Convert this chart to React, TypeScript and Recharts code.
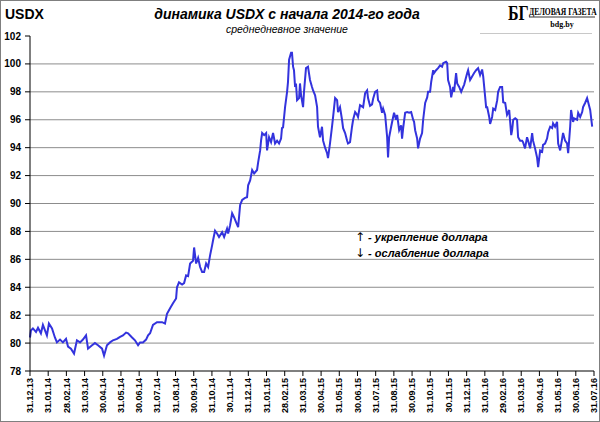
import React from 'react';
import { LineChart, Line, XAxis, YAxis, CartesianGrid } from 'recharts';

// month-end tick labels, index = months since 31.12.13
const monthLabels = [
  '31.12.13', '31.01.14', '28.02.14', '31.03.14', '30.04.14', '31.05.14', '30.06.14', '31.07.14',
  '31.08.14', '30.09.14', '31.10.14', '30.11.14', '31.12.14', '31.01.15', '28.02.15', '31.03.15',
  '30.04.15', '31.05.15', '30.06.15', '31.07.15', '31.08.15', '30.09.15', '31.10.15', '30.11.15',
  '31.12.15', '31.01.16', '29.02.16', '31.03.16', '30.04.16', '31.05.16', '30.06.16', '31.07.16',
];

const yTicks = [78, 80, 82, 84, 86, 88, 90, 92, 94, 96, 98, 100, 102];
const gridValues = [80, 82, 84, 86, 88, 90, 92, 94, 96, 98, 100];

// [months since 31.12.13, USDX]
const usdx2014: [number, number][] = [
  [0, 80.4], [0.05, 80.9], [0.16, 81.05], [0.33, 80.8], [0.44, 81.1], [0.6, 80.7], [0.71, 81.3],
  [0.93, 80.55], [1.04, 81.4], [1.21, 81.05], [1.37, 80.4], [1.48, 80.05], [1.65, 80.25], [1.81, 80.05],
  [1.98, 80.3], [2.09, 79.75], [2.25, 79.6], [2.42, 79.25], [2.58, 80.2], [2.75, 80.05], [2.91, 80.25],
  [3.08, 80.55], [3.19, 79.6], [3.41, 79.85], [3.57, 80.0], [3.74, 79.85], [3.96, 79.6], [4.07, 79.1],
  [4.23, 79.85], [4.4, 80.05], [4.56, 80.2], [4.78, 80.3], [4.95, 80.45], [5.11, 80.55], [5.28, 80.75],
  [5.39, 80.7], [5.61, 80.4], [5.77, 80.2], [5.94, 79.85], [6.05, 80.05], [6.21, 80.05], [6.38, 80.25],
  [6.49, 80.55], [6.6, 80.7], [6.76, 81.3], [6.98, 81.5], [7.26, 81.5], [7.42, 81.4], [7.53, 82.1],
  [7.7, 82.5], [7.86, 82.85], [8.03, 83.2], [8.08, 84.0], [8.19, 84.35], [8.36, 84.2], [8.47, 84.3],
  [8.58, 84.85], [8.69, 84.8], [8.8, 85.7], [8.96, 85.9], [9.02, 86.85], [9.13, 85.7], [9.24, 86.1],
  [9.35, 85.45], [9.46, 85.1], [9.57, 85.1], [9.68, 85.7], [9.79, 85.45], [9.9, 86.3], [10.01, 87.0],
  [10.06, 87.35], [10.17, 88.05], [10.28, 87.85], [10.39, 87.6], [10.56, 87.95], [10.67, 87.6],
  [10.83, 88.2], [10.89, 87.85], [11.0, 88.45], [11.11, 89.3], [11.22, 89.0], [11.33, 88.65],
  [11.44, 88.3], [11.55, 89.9], [11.66, 90.25], [11.82, 90.4], [11.93, 90.45], [11.99, 91.3],
];

const usdx2015: [number, number][] = [
  [12.1, 91.65], [12.21, 92.4], [12.32, 92.15], [12.48, 92.4], [12.54, 92.95], [12.65, 93.8], [12.7, 94.5],
  [12.76, 95.05], [12.87, 94.9], [12.98, 95.05], [13.03, 93.8], [13.14, 94.75], [13.25, 94.4], [13.36, 95.05],
  [13.47, 94.3], [13.58, 94.5], [13.69, 94.3], [13.8, 94.65], [13.85, 95.4], [13.91, 95.45], [14.02, 96.9],
  [14.13, 98.0], [14.18, 98.7], [14.24, 100.3], [14.35, 100.8], [14.4, 100.8], [14.46, 99.8], [14.51, 99.55],
  [14.57, 98.35], [14.62, 98.6], [14.68, 97.4], [14.79, 97.55], [14.84, 98.6], [14.9, 97.75], [15.01, 96.9],
  [15.06, 98.0], [15.17, 99.7], [15.28, 99.8], [15.39, 98.85], [15.5, 98.35], [15.56, 98.1], [15.67, 97.75],
  [15.78, 96.9], [15.83, 95.5], [15.94, 94.75], [16.05, 95.5], [16.11, 94.5], [16.22, 94.0], [16.33, 93.6],
  [16.38, 93.25], [16.49, 94.3], [16.6, 95.5], [16.66, 96.2], [16.77, 97.55], [16.88, 97.4], [16.93, 96.55],
  [17.04, 96.9], [17.15, 96.0], [17.21, 95.4], [17.32, 95.05], [17.43, 94.5], [17.48, 94.3], [17.59, 94.4],
  [17.7, 95.5], [17.76, 96.0], [17.87, 96.55], [17.98, 96.35], [18.03, 96.2], [18.14, 97.05], [18.31, 96.9],
  [18.42, 97.9], [18.53, 98.1], [18.58, 97.55], [18.69, 97.0], [18.8, 97.1], [18.86, 97.5], [18.97, 98.0],
  [19.08, 98.1], [19.13, 97.4], [19.24, 97.2], [19.35, 96.5], [19.41, 96.8], [19.52, 96.35], [19.63, 94.75],
  [19.68, 93.3], [19.74, 94.75], [19.85, 95.5], [19.96, 96.2], [20.01, 96.5], [20.12, 96.0], [20.18, 96.35],
  [20.29, 95.25], [20.4, 95.6], [20.45, 94.65], [20.51, 95.4], [20.62, 96.5], [20.73, 96.55], [20.84, 96.5],
  [20.95, 96.55], [21.06, 96.0], [21.11, 95.85], [21.17, 95.25], [21.28, 94.65], [21.33, 93.95], [21.44, 94.65],
  [21.55, 95.05], [21.61, 96.0], [21.72, 97.2], [21.83, 97.6], [21.88, 98.0], [21.99, 98.0], [22.05, 98.7],
  [22.16, 99.55], [22.21, 99.35], [22.32, 99.55], [22.43, 99.7], [22.54, 99.9], [22.65, 99.8], [22.71, 100.05],
  [22.87, 100.15], [22.93, 100.05], [22.98, 98.85], [23.09, 98.35], [23.15, 97.6], [23.26, 98.35], [23.31, 98.0],
  [23.42, 99.35], [23.48, 98.6], [23.59, 98.35], [23.7, 98.0], [23.81, 98.35], [23.86, 98.5],
];

const usdx2016: [number, number][] = [
  [24.03, 99.35], [24.08, 99.55], [24.19, 98.85], [24.3, 99.1], [24.41, 99.35], [24.52, 99.55], [24.63, 99.7],
  [24.74, 99.2], [24.85, 99.6], [24.91, 99.1], [25.02, 97.6], [25.07, 96.9], [25.13, 96.9], [25.24, 96.2],
  [25.29, 95.7], [25.4, 96.2], [25.46, 96.8], [25.57, 96.7], [25.68, 97.4], [25.73, 98.0], [25.84, 98.35],
  [25.95, 98.35], [26.01, 97.25], [26.12, 97.2], [26.22, 96.35], [26.28, 96.5], [26.34, 96.7], [26.45, 94.9],
  [26.5, 95.25], [26.56, 96.0], [26.67, 96.1], [26.77, 96.0], [26.83, 94.75], [26.94, 94.5], [27.05, 94.5],
  [27.1, 94.4], [27.21, 93.95], [27.32, 94.75], [27.38, 94.5], [27.49, 93.95], [27.6, 95.05], [27.65, 94.5],
  [27.76, 93.95], [27.87, 93.3], [27.93, 92.6], [28.04, 93.8], [28.15, 93.7], [28.2, 94.2], [28.31, 94.3],
  [28.42, 94.65], [28.48, 95.1], [28.59, 95.5], [28.7, 95.4], [28.75, 95.75], [28.86, 95.5], [28.97, 95.85],
  [29.03, 94.3], [29.14, 93.8], [29.25, 94.65], [29.3, 95.05], [29.41, 94.5], [29.52, 94.3], [29.58, 93.6],
  [29.69, 95.5], [29.74, 96.7], [29.85, 95.85], [29.91, 96.1], [30.07, 96.0], [30.13, 96.5], [30.24, 96.2],
  [30.35, 96.55], [30.4, 96.9], [30.51, 97.2], [30.62, 97.55], [30.68, 97.25], [30.79, 96.7], [30.9, 95.5],
];

const chartData = [...usdx2014, ...usdx2015, ...usdx2016].map(([t, v]) => ({ t, v }));
const monthTicks = monthLabels.map((_, i) => i);

const FONT = '"Liberation Sans", Arial, sans-serif';
const SERIF = '"Liberation Serif", serif';

const MonthTick = (props: any) => {
  const { x, y, payload } = props;
  return (
    <text
      x={x}
      y={y}
      transform={`rotate(-90, ${x}, ${y})`}
      textAnchor="end"
      dy="0.35em"
      fontSize={9}
      fontWeight="bold"
      fontFamily={FONT}
      fill="#000"
    >
      {monthLabels[payload.value]}
    </text>
  );
};

const App: React.FC = () => {
  return (
    <div style={{ position: 'absolute', left: 0, top: 0, width: 600, height: 422, background: '#fff' }}>
      <LineChart width={600} height={422} data={chartData} margin={{ top: 36, right: 6, left: 0, bottom: 0 }}>
        <CartesianGrid vertical={false} horizontalValues={gridValues} stroke="#8c8c8c" strokeWidth={1} />
        <XAxis
          dataKey="t"
          type="number"
          domain={[0, 31]}
          ticks={monthTicks}
          interval={0}
          height={51}
          tick={<MonthTick />}
          tickSize={5}
          tickMargin={2}
          axisLine={{ stroke: '#000' }}
          tickLine={{ stroke: '#000' }}
        />
        <YAxis
          domain={[78, 102]}
          ticks={yTicks}
          interval={0}
          width={30}
          tickSize={5}
          tickMargin={4}
          axisLine={{ stroke: '#000' }}
          tickLine={{ stroke: '#000' }}
          tick={{ fontSize: 10, fontWeight: 'bold', fill: '#000', fontFamily: FONT }}
        />
        <Line
          type="linear"
          dataKey="v"
          stroke="#3333dd"
          strokeWidth={2}
          dot={false}
          isAnimationActive={false}
        />
      </LineChart>
      <svg width={600} height={422} style={{ position: 'absolute', left: 0, top: 0, pointerEvents: 'none' }}>
        <rect x={0.5} y={0.5} width={599} height={421} fill="none" stroke="#7f7f7f" />
        <text x={5} y={19} fontSize={14} fontWeight="bold" fontFamily={FONT} fill="#000">USDX</text>
        <text x={287} y={19} textAnchor="middle" fontSize={14} fontWeight="bold" fontStyle="italic" fontFamily={FONT} fill="#000">
          динамика  USDX с начала 2014-го года
        </text>
        <text x={287} y={33} textAnchor="middle" fontSize={10.5} fontStyle="italic" fontFamily={FONT} fill="#000">
          среднедневное значение
        </text>
        <g transform="translate(508, 20) scale(1, 1.3)">
          <text x={0} y={0} fontSize={16} fontWeight="bold" fontFamily={SERIF} fill="#000">БГ</text>
        </g>
        <g transform="translate(529, 15) scale(1, 1.3)">
          <text x={0} y={0} fontSize={7.6} fontWeight="bold" fontFamily={SERIF} fill="#000">ДЕЛОВАЯ ГАЗЕТА</text>
        </g>
        <line x1={529} x2={595} y1={17} y2={17} stroke="#000" strokeWidth={0.8} />
        <text x={562} y={27} textAnchor="middle" fontSize={8} fontWeight="bold" fontFamily={SERIF} fill="#000">bdg.by</text>
        <line x1={480} x2={592} y1={33.5} y2={33.5} stroke="#c8c8c8" strokeWidth={1} />
        <text x={355} y={241} fontSize={11} fontWeight="bold" fontStyle="italic" fontFamily={FONT} fill="#000">
          <tspan fontFamily='"DejaVu Sans", sans-serif' fontStyle="normal" fontWeight="normal" fontSize={12}>↑</tspan> - укрепление доллара
        </text>
        <text x={355} y={257} fontSize={11} fontWeight="bold" fontStyle="italic" fontFamily={FONT} fill="#000">
          <tspan fontFamily='"DejaVu Sans", sans-serif' fontStyle="normal" fontWeight="normal" fontSize={12}>↓</tspan> - ослабление доллара
        </text>
      </svg>
    </div>
  );
};

export default App;
